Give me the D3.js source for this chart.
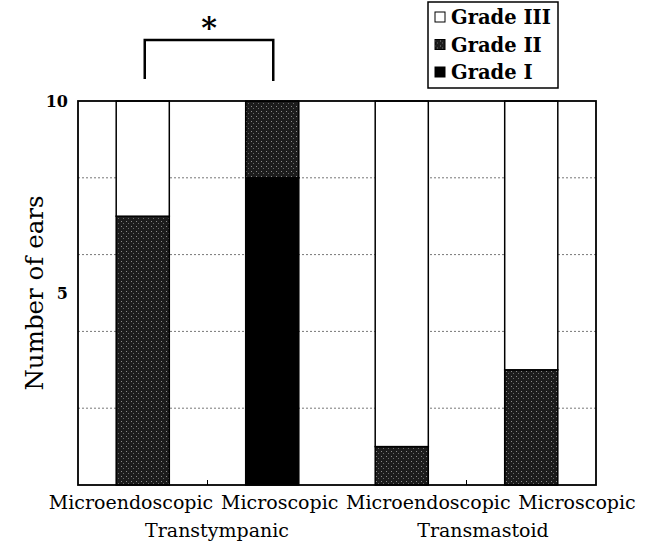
<!DOCTYPE html>
<html>
<head>
<meta charset="utf-8">
<script src="https://cdn.jsdelivr.net/npm/d3@7"></script>
<style>
  body { margin: 0; background: #fff; }
  text { font-family: "DejaVu Serif", serif; fill: #000; }
</style>
</head>
<body>
<svg id="chart"></svg>
<script>
// bar categories and group labels
const approaches = ["Microendoscopic", "Microscopic", "Microendoscopic", "Microscopic"];
const groups = ["Transtympanic", "Transmastoid"];
// number of ears per grade, in bar order
const gradeI = [0, 8, 0, 0];
const gradeII = [7, 2, 1, 3];
const gradeIII = [3, 0, 9, 7];
const grades = ["Grade I", "Grade II", "Grade III"];
const yTickLabels = [5, 10];
const gridValues = [2, 4, 6, 8];

const width = 652, height = 545;
const margin = {top: 101, right: 56, bottom: 60, left: 78};

const svg = d3.select("#chart")
    .attr("width", width)
    .attr("height", height);

// stipple pattern for grade II
const defs = svg.append("defs");
const pat = defs.append("pattern")
    .attr("id", "stipple")
    .attr("width", 5).attr("height", 5)
    .attr("patternUnits", "userSpaceOnUse");
pat.append("rect").attr("width", 5).attr("height", 5).attr("fill", "#1c1c1c");
pat.append("rect").attr("x", 1).attr("y", 1).attr("width", 1).attr("height", 1).attr("fill", "#8a8a8a");
pat.append("rect").attr("x", 3).attr("y", 3).attr("width", 1).attr("height", 1).attr("fill", "#6a6a6a");

const fills = {"Grade I": "#000", "Grade II": "url(#stipple)", "Grade III": "#fff"};

const x = d3.scaleBand()
    .domain(d3.range(approaches.length))
    .range([margin.left, width - margin.right])
    .paddingInner(0.59)
    .paddingOuter(0.295);

const y = d3.scaleLinear()
    .domain([0, 10])
    .range([height - margin.bottom, margin.top]);

// label positions (the printed labels sit a bit off the bar centres)
const labelX = d3.scalePoint().domain(d3.range(approaches.length)).range([131, 577]);
const groupX = d3.scalePoint().domain(d3.range(groups.length)).range([217, 483]);

// dotted grid
svg.append("g")
    .selectAll("line")
    .data(gridValues)
    .join("line")
    .attr("x1", margin.left).attr("x2", width - margin.right)
    .attr("y1", d => y(d)).attr("y2", d => y(d))
    .attr("stroke", "#777")
    .attr("stroke-width", 1)
    .attr("stroke-dasharray", "2,2");

// stacked bars
const table = approaches.map((a, i) => ({i: i, "Grade I": gradeI[i], "Grade II": gradeII[i], "Grade III": gradeIII[i]}));
const stack = d3.stack().keys(grades)(table);

svg.append("g")
    .selectAll("g")
    .data(stack)
    .join("g")
    .attr("fill", d => fills[d.key])
    .selectAll("rect")
    .data(d => d.filter(s => s[1] > s[0]))
    .join("rect")
    .attr("x", d => x(d.data.i))
    .attr("y", d => y(d[1]))
    .attr("width", x.bandwidth())
    .attr("height", d => y(d[0]) - y(d[1]))
    .attr("stroke", "#000")
    .attr("stroke-width", 1.5);

// plot frame
svg.append("rect")
    .attr("x", margin.left).attr("y", margin.top)
    .attr("width", width - margin.left - margin.right)
    .attr("height", height - margin.top - margin.bottom)
    .attr("fill", "none")
    .attr("stroke", "#000")
    .attr("stroke-width", 1.8);

// small separators between pairs
const sepX = [0, 2].map(i => (x(i) + x(i + 1) + x.bandwidth()) / 2);
svg.append("g")
    .selectAll("line")
    .data(sepX)
    .join("line")
    .attr("x1", d => d).attr("x2", d => d)
    .attr("y1", y(0)).attr("y2", y(0) - 5)
    .attr("stroke", "#000");

// y axis labels
const yAxis = d3.axisLeft(y).tickValues(yTickLabels).tickSize(0).tickPadding(10);
const gy = svg.append("g")
    .attr("transform", `translate(${margin.left},0)`)
    .call(yAxis);
gy.select(".domain").remove();
gy.selectAll("text")
    .style("font-family", "DejaVu Serif")
    .style("font-size", "16px")
    .style("font-weight", "bold");

svg.append("text")
    .attr("transform", `translate(43,${(y(0) + y(10)) / 2}) rotate(-90)`)
    .attr("text-anchor", "middle")
    .style("font-size", "24.5px")
    .text("Number of ears");

// x labels
svg.append("g")
    .selectAll("text")
    .data(approaches)
    .join("text")
    .attr("x", (d, i) => labelX(i))
    .attr("y", 509)
    .attr("text-anchor", "middle")
    .style("font-size", "19px")
    .text(d => d);

svg.append("g")
    .selectAll("text")
    .data(groups)
    .join("text")
    .attr("x", (d, i) => groupX(i))
    .attr("y", 537)
    .attr("text-anchor", "middle")
    .style("font-size", "19px")
    .text(d => d);

// significance bracket
const bx1 = x(0) + x.bandwidth() / 2 + 2, bx2 = x(1) + x.bandwidth() / 2 + 1;
svg.append("path")
    .attr("d", `M${bx1},79 V40 H${bx2} V81`)
    .attr("fill", "none")
    .attr("stroke", "#000")
    .attr("stroke-width", 2.5);
svg.append("text")
    .attr("x", (bx1 + bx2) / 2)
    .attr("y", 38)
    .attr("text-anchor", "middle")
    .style("font-size", "30px")
    .style("font-weight", "bold")
    .text("*");

// legend
const legend = svg.append("g").attr("transform", "translate(428,2)");
legend.append("rect")
    .attr("width", 130).attr("height", 86)
    .attr("fill", "#fff")
    .attr("stroke", "#000")
    .attr("stroke-width", 1.5);
const items = legend.selectAll("g")
    .data(grades.slice().reverse())
    .join("g")
    .attr("transform", (d, i) => `translate(6,${15 + i * 27.5})`);
items.append("rect")
    .attr("x", 1).attr("y", -5)
    .attr("width", 10).attr("height", 10)
    .attr("fill", d => fills[d])
    .attr("stroke", "#000")
    .attr("stroke-width", 1);
items.append("text")
    .attr("x", 17)
    .attr("y", 7)
    .style("font-size", "19.5px")
    .style("font-weight", "bold")
    .text(d => d);
</script>
</body>
</html>
